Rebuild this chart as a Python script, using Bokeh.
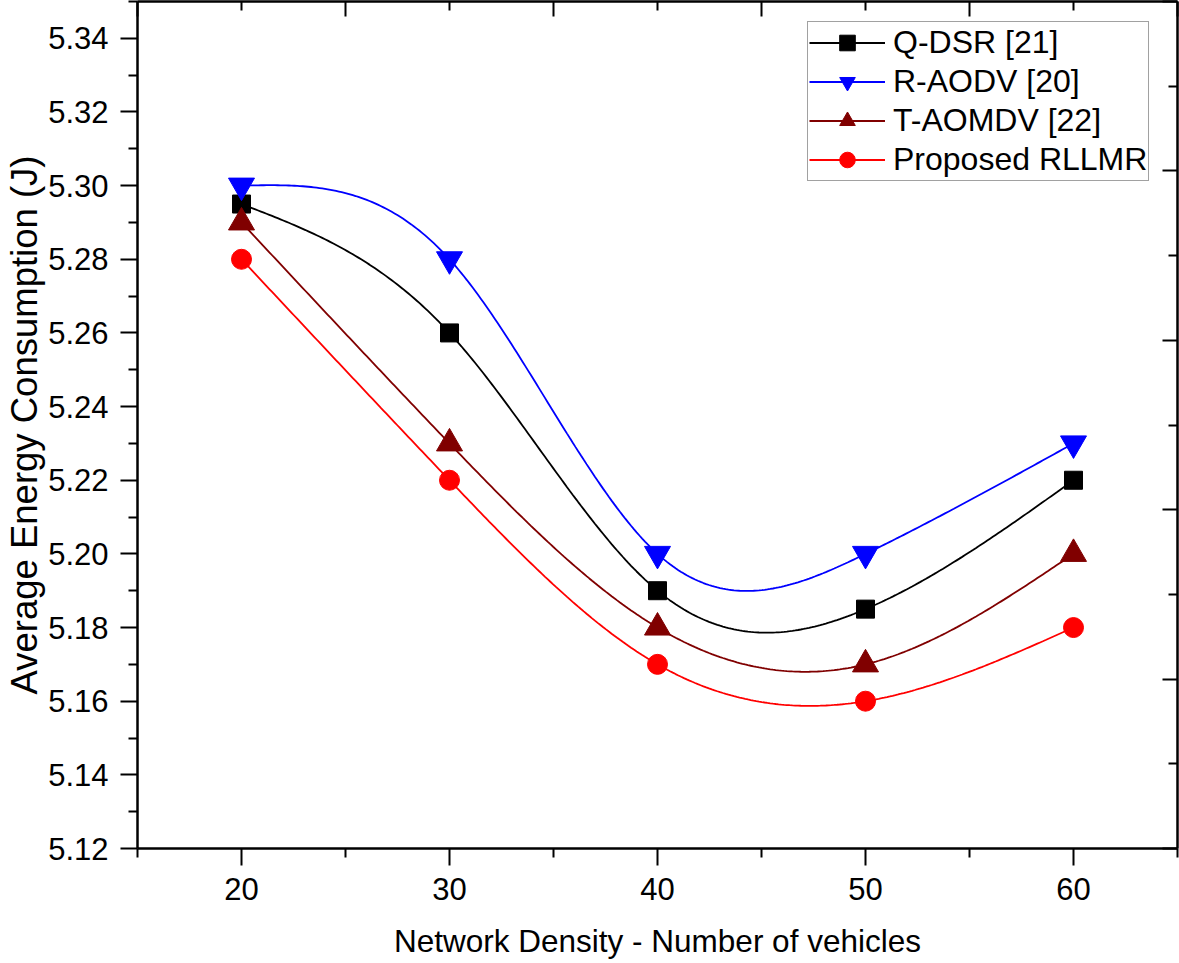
import numpy as np
from bokeh.plotting import figure
from bokeh.models import (Range1d, LinearAxis, FixedTicker, Legend, LegendItem,
                          PrintfTickFormatter)
from bokeh.embed import file_html
from bokeh.resources import INLINE

# ---- data ----
vehicles = [20, 30, 40, 50, 60]
q_dsr = [5.295, 5.26, 5.19, 5.185, 5.22]
r_aodv = [5.30, 5.28, 5.20, 5.20, 5.23]
t_aomdv = [5.29, 5.23, 5.18, 5.17, 5.20]
rllmr = [5.28, 5.22, 5.17, 5.16, 5.18]

series_names = ["Q-DSR [21]", "R-AODV [20]", "T-AOMDV [22]", "Proposed RLLMR"]

x_ticks = [20, 30, 40, 50, 60]
x_minor = [15, 25, 35, 45, 55, 65]
y_ticks = [5.12, 5.14, 5.16, 5.18, 5.20, 5.22, 5.24, 5.26, 5.28, 5.30, 5.32, 5.34]
y_minor = [5.13, 5.15, 5.17, 5.19, 5.21, 5.23, 5.25, 5.27, 5.29, 5.31, 5.33, 5.35]
opp_ticks = [0, 2, 4, 6, 8, 10]
opp_minor = [1, 3, 5, 7, 9]

x_title = "Network Density - Number of vehicles"
y_title = "Average Energy Consumption (J)"

FONT = "Liberation Sans"


def natural_spline(xs, ys, n=300):
    x = np.asarray(xs, float)
    y = np.asarray(ys, float)
    m = len(x)
    h = np.diff(x)
    A = np.zeros((m, m))
    b = np.zeros(m)
    A[0, 0] = 1.0
    A[-1, -1] = 1.0
    for i in range(1, m - 1):
        A[i, i - 1] = h[i - 1]
        A[i, i] = 2 * (h[i - 1] + h[i])
        A[i, i + 1] = h[i]
        b[i] = 6 * ((y[i + 1] - y[i]) / h[i] - (y[i] - y[i - 1]) / h[i - 1])
    M = np.linalg.solve(A, b)
    xx = np.linspace(x[0], x[-1], n)
    idx = np.clip(np.searchsorted(x, xx) - 1, 0, m - 2)
    x0, x1 = x[idx], x[idx + 1]
    hh = x1 - x0
    a = (x1 - xx) / hh
    bb = (xx - x0) / hh
    yy = (a * y[idx] + bb * y[idx + 1]
          + ((a ** 3 - a) * M[idx] + (bb ** 3 - bb) * M[idx + 1]) * hh ** 2 / 6)
    return xx, yy


p = figure(width=1179, height=963,
           x_range=Range1d(15, 65), y_range=Range1d(5.12, 5.35),
           output_backend="svg", toolbar_location=None,
           x_axis_location=None, y_axis_location=None,
           min_border_left=137, min_border_right=2,
           min_border_top=1, min_border_bottom=115)
p.outline_line_color = None
p.xgrid.visible = False
p.ygrid.visible = False
p.background_fill_color = "white"
p.border_fill_color = "white"

p.extra_x_ranges = {"top": Range1d(0, 10)}
p.extra_y_ranges = {"right": Range1d(0, 10)}

AX_W = 2.5


def style_axis(ax):
    ax.axis_line_width = AX_W
    ax.axis_line_color = "black"
    ax.major_tick_line_width = 2
    ax.minor_tick_line_width = 2
    ax.major_tick_line_color = "black"
    ax.minor_tick_line_color = "black"
    ax.major_label_text_font = FONT
    ax.major_label_text_color = "black"
    ax.axis_label_text_font = FONT
    ax.axis_label_text_font_style = "normal"
    ax.axis_label_text_color = "black"
    ax.axis_label_text_line_height = 1.0


left = LinearAxis(ticker=FixedTicker(ticks=y_ticks, minor_ticks=y_minor),
                  formatter=PrintfTickFormatter(format="%.2f"),
                  axis_label=y_title)
style_axis(left)
left.major_tick_out = 17
left.major_tick_in = 0
left.minor_tick_out = 9
left.minor_tick_in = 0
left.major_label_text_font_size = "31px"
left.major_label_standoff = 12
left.axis_label_text_font_size = "36.5px"
left.axis_label_standoff = 0
p.add_layout(left, "left")

bottom = LinearAxis(ticker=FixedTicker(ticks=x_ticks, minor_ticks=x_minor),
                    axis_label=x_title)
style_axis(bottom)
bottom.major_tick_out = 17
bottom.major_tick_in = 0
bottom.minor_tick_out = 9
bottom.minor_tick_in = 0
bottom.major_label_text_font_size = "31px"
bottom.major_label_standoff = 12
bottom.axis_label_text_font_size = "31.5px"
bottom.axis_label_standoff = 20
p.add_layout(bottom, "below")

top = LinearAxis(x_range_name="top",
                 ticker=FixedTicker(ticks=opp_ticks, minor_ticks=opp_minor))
style_axis(top)
top.major_tick_in = 15
top.major_tick_out = 0
top.minor_tick_in = 9
top.minor_tick_out = 0
top.major_label_text_font_size = "0px"
top.major_label_standoff = 0
p.add_layout(top, "above")

right = LinearAxis(y_range_name="right",
                   ticker=FixedTicker(ticks=opp_ticks, minor_ticks=opp_minor))
style_axis(right)
right.major_tick_in = 15
right.major_tick_out = 0
right.minor_tick_in = 9
right.minor_tick_out = 0
right.major_label_text_font_size = "0px"
right.major_label_standoff = 0
p.add_layout(right, "right")

series = [
    (q_dsr, "black", "square", 18),
    (r_aodv, "#0000FF", "inverted_triangle", 26),
    (t_aomdv, "#800000", "triangle", 26),
    (rllmr, "#FF0000", "circle", 20),
]

items = []
for (vals, color, marker, size), name in zip(series, series_names):
    sx, sy = natural_spline(vehicles, vals)
    ln = p.line(sx, sy, line_color=color, line_width=1.8)
    sc = p.scatter(vehicles, vals, marker=marker, size=size,
                   fill_color=color, line_color=color)
    items.append(LegendItem(label=name, renderers=[ln, sc]))

legend = Legend(items=items, location=(670, 667))
legend.border_line_color = "#444444"
legend.border_line_width = 1
legend.background_fill_color = "white"
legend.background_fill_alpha = 1
legend.label_text_font = FONT
legend.label_text_font_size = "32px"
legend.label_text_color = "black"
legend.glyph_width = 76
legend.glyph_height = 39
legend.label_height = 33
legend.spacing = 0
legend.padding = 1
legend.label_standoff = 8
legend.margin = 0
p.add_layout(legend)

open("out.html", "w").write(file_html(p, INLINE))
